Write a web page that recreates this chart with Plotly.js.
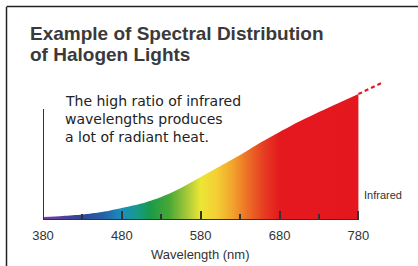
<!DOCTYPE html>
<html>
<head>
<meta charset="utf-8">
<script src="https://cdn.plot.ly/plotly-3.0.1.min.js"></script>
<style>html,body{margin:0;padding:0;background:#fff;}#chart{width:418px;height:266px;}</style>
</head>
<body>
<div id="chart"></div>
<script>
// Data
const wavelengths = [380, 405, 430, 455, 480, 505, 530, 555, 580, 605, 630, 655, 680, 705, 730, 755, 780];
const intensity   = [3, 4, 5.5, 8, 12, 16.5, 23, 32, 43, 54, 65, 77, 88, 98.5, 108, 117, 126];
const extWavelengths = [780, 812];
const extIntensity   = [126, 138];
const tickValues = [380, 480, 580, 680, 780];
const tickLabels = ["380", "480", "580", "680", "780"];
const minorTickValues = [430, 530, 630, 730];
const titleLines = ["Example of Spectral Distribution", "of Halogen Lights"];
const noteLines = ["The high ratio of infrared", "wavelengths produces", "a lot of radiant heat."];
const xTitle = "Wavelength (nm)";
const irLabel = "Infrared";

const W = 418, H = 266, ML = 43, MR = 32, MT = 80, MB = 46;
const PW = W - ML - MR, PH = H - MT - MB;
const px = v => (v - ML) / PW;
const py = v => (H - MB - v) / PH;

const spectrum = [
  [0.00, '#7b3f9c'], [0.05, '#5b3f9e'], [0.12, '#2d4796'], [0.19, '#2460a8'],
  [0.25, '#1b8fbc'], [0.30, '#179a88'], [0.34, '#1a9a4a'], [0.40, '#48a835'],
  [0.45, '#9cc43a'], [0.50, '#ece634'], [0.55, '#f4cf36'], [0.60, '#f2a42c'],
  [0.65, '#ec6d26'], [0.70, '#e63d22'], [0.75, '#e4191e'], [1.00, '#e4171e']
];

const traces = [
  {
    x: wavelengths, y: intensity, type: 'scatter', mode: 'lines',
    line: {width: 0, shape: 'spline', smoothing: 0.8, color: '#e4171e'},
    fill: 'tozeroy',
    fillgradient: {type: 'horizontal', colorscale: spectrum},
    hoverinfo: 'skip', showlegend: false
  },
  {
    x: extWavelengths, y: extIntensity, type: 'scatter', mode: 'lines',
    line: {width: 2, dash: '4px,3px', color: '#e4171e'},
    hoverinfo: 'skip', showlegend: false
  }
];

const SANS = '"Liberation Sans", Arial, sans-serif';
const annotations = [];
const titleCenters = [33, 54.5];
titleLines.forEach((t, i) => annotations.push({
  text: t, xref: 'paper', yref: 'paper', x: px(28), y: py(titleCenters[i]), xanchor: 'left', yanchor: 'middle',
  showarrow: false, font: {size: 19, color: '#3a3a3a', family: SANS, weight: 'bold'}
}));
const noteCenters = [100.5, 119, 137];
noteLines.forEach((t, i) => annotations.push({
  text: t, xref: 'paper', yref: 'paper', x: px(63), y: py(noteCenters[i]), xanchor: 'left', yanchor: 'middle',
  showarrow: false, font: {size: 14, color: '#222', family: '"DejaVu Sans", Verdana, sans-serif'}
}));
annotations.push({text: xTitle, xref: 'x', yref: 'paper', x: 580, y: py(254), xanchor: 'center', yanchor: 'middle',
  showarrow: false, font: {size: 13, color: '#333', family: SANS}});
annotations.push({text: irLabel, xref: 'paper', yref: 'paper', x: px(362), y: py(195), xanchor: 'left', yanchor: 'middle',
  showarrow: false, font: {size: 11, color: '#333', family: '"Liberation Sans Narrow", "Liberation Sans", Arial, sans-serif'}});

const layout = {
  width: W, height: H,
  margin: {l: ML, r: MR, t: MT, b: MB, pad: 0},
  paper_bgcolor: '#fff', plot_bgcolor: 'rgba(0,0,0,0)',
  showlegend: false,
  font: {family: SANS, color: '#333'},
  xaxis: {
    range: [380, 815], showgrid: false, zeroline: false, showline: false,
    tickmode: 'array', tickvals: tickValues, ticktext: tickLabels,
    ticks: 'inside', ticklen: 9, tickwidth: 2, tickcolor: '#333',
    ticklabelstandoff: 6,
    tickfont: {size: 13, color: '#333'},
    minor: {tickmode: 'array', tickvals: minorTickValues, ticks: 'inside', ticklen: 6, tickwidth: 2, tickcolor: '#333'},
    fixedrange: true
  },
  yaxis: {range: [0, 140], visible: false, fixedrange: true},
  shapes: [
    {type: 'line', xref: 'x', yref: 'y', x0: 380, x1: 780, y0: 0, y1: 0, line: {color: '#333', width: 2}},
    {type: 'line', xref: 'x', yref: 'y', x0: 380, x1: 380, y0: 0, y1: 111, line: {color: '#333', width: 2}},
    {type: 'line', xref: 'paper', yref: 'paper', x0: px(6.5), x1: px(6.5), y0: py(7), y1: py(270), line: {color: '#222', width: 1.5}},
    {type: 'line', xref: 'paper', yref: 'paper', x0: px(6.5), x1: px(420), y0: py(6.5), y1: py(6.5), line: {color: '#222', width: 1.5}}
  ],
  annotations: annotations
};

Plotly.newPlot('chart', traces, layout, {displayModeBar: false, staticPlot: true});
</script>
</body>
</html>
